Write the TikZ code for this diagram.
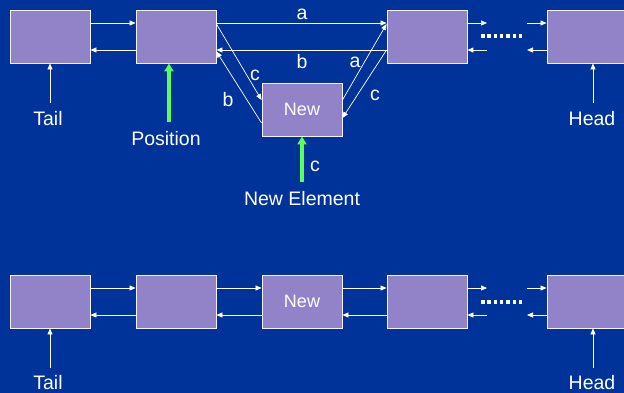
\documentclass[tikz,border=0pt]{standalone}
\usepackage{fontspec}
\setmainfont{Liberation Sans}
\usetikzlibrary{arrows.meta}
\definecolor{bg}{RGB}{0,51,153}
\definecolor{boxc}{RGB}{146,131,201}
\definecolor{grn}{RGB}{90,255,90}
\tikzset{
  cell/.style={draw=white!90!boxc, line width=0.9pt, fill=boxc, minimum width=80pt, minimum height=53pt, inner sep=0pt, text=white, font=\fontsize{18}{20}\selectfont},
  link/.style={draw=white, line width=0.7pt, -{Triangle[length=6pt,width=5pt]}},
  ptr/.style={draw=white, line width=0.7pt, -{Triangle[length=6pt,width=5pt]}},
  gptr/.style={draw=grn, line width=3.2pt, -{Triangle[length=8pt,width=9pt]}},
  lbl/.style={text=white, font=\fontsize{19.5}{21}\selectfont, inner sep=0pt},
  dots/.style={draw=white, line width=3.5pt, dash pattern=on 3.5pt off 2.8pt}
}
\begin{document}
\begin{tikzpicture}[x=1pt,y=-1pt]
\fill[bg] (0,0) rectangle (624,393);
\useasboundingbox (0,0) rectangle (624,393);
\clip (0,0) rectangle (624,393);
% ---------- top row ----------
\node[cell] (t1) at (50,36.5) {};
\node[cell] (t2) at (176,36.5) {};
\node[cell] (t3) at (427,36.5) {};
\node[cell] (t4) at (587,36.5) {};
\node[cell] (tn) at (302,109.5) {New};
\draw[link] ([yshift=13.5pt]t1.east) -- ([yshift=13.5pt]t2.west);
\draw[link] ([yshift=-13.5pt]t2.west) -- ([yshift=-13.5pt]t1.east);
\draw[link] ([yshift=13.5pt]t2.east) -- ([yshift=13.5pt]t3.west);
\draw[link] ([yshift=-13.5pt]t3.west) -- ([yshift=-13.5pt]t2.east);
\draw[link] ([yshift=12.5pt]t2.east) -- ([yshift=9.5pt]tn.west);
\draw[link] ([yshift=-13.5pt]tn.west) -- ([yshift=-15pt]t2.east);
\draw[link] ([yshift=9.5pt]tn.east) -- ([yshift=12.5pt]t3.west);
\draw[link] ([yshift=-13.5pt]t3.west) -- ([yshift=-8.5pt]tn.east);
\coordinate (tfa) at (487,23);
\coordinate (tfb) at (527,23);
\coordinate (tba) at (487,50);
\coordinate (tbb) at (527,50);
\draw[link] ([yshift=13.5pt]t3.east) -- (tfa);
\draw[link] (tfb) -- ([yshift=13.5pt]t4.west);
\draw[link] (tba) -- ([yshift=-13.5pt]t3.east);
\draw[link] ([yshift=-13.5pt]t4.west) -- (tbb);
\coordinate (td1) at (481,36);
\coordinate (td2) at (525,36);
\draw[dots] (td1) -- (td2);
\node[lbl] at (302,14) {a};
\node[lbl] at (302,62) {b};
\node[lbl] at (255,75) {c};
\node[lbl] at (228,100) {b};
\node[lbl] at (355,62) {a};
\node[lbl] at (375,95) {c};
% pointers top
\node[lbl] (tail1) at (48,119) {Tail};
\node[lbl] (head1) at (592,119) {Head};
\coordinate (tt) at (50,103);
\coordinate (th) at (593,103);
\draw[ptr] (tt) -- (t1.south);
\draw[ptr] (th) -- (th |- t4.south);
\node[lbl] (pos) at (166,139) {Position};
\coordinate (pp) at (169,122);
\draw[gptr] (pp) -- (pp |- t2.south);
\node[lbl] (ne) at (302,199) {New Element};
\coordinate (np) at (302,182);
\draw[gptr] (np) -- (tn.south);
\node[lbl] at (315,166) {c};
% ---------- bottom row ----------
\node[cell] (b1) at (50,301.5) {};
\node[cell] (b2) at (176,301.5) {};
\node[cell] (b3) at (302,301.5) {New};
\node[cell] (b4) at (427,301.5) {};
\node[cell] (b5) at (587,301.5) {};
\foreach \a/\b in {b1/b2,b2/b3,b3/b4}{
  \draw[link] ([yshift=13.5pt]\a.east) -- ([yshift=13.5pt]\b.west);
  \draw[link] ([yshift=-13.5pt]\b.west) -- ([yshift=-13.5pt]\a.east);
}
\coordinate (bfa) at (487,288);
\coordinate (bfb) at (527,288);
\coordinate (bba) at (487,315);
\coordinate (bbb) at (527,315);
\draw[link] ([yshift=13.5pt]b4.east) -- (bfa);
\draw[link] (bfb) -- ([yshift=13.5pt]b5.west);
\draw[link] (bba) -- ([yshift=-13.5pt]b4.east);
\draw[link] ([yshift=-13.5pt]b5.west) -- (bbb);
\coordinate (bd1) at (481,302);
\coordinate (bd2) at (525,302);
\draw[dots] (bd1) -- (bd2);
\node[lbl] (tail2) at (48,383) {Tail};
\node[lbl] (head2) at (592,383) {Head};
\coordinate (bt) at (50,368);
\coordinate (bh) at (593,368);
\draw[ptr] (bt) -- (b1.south);
\draw[ptr] (bh) -- (bh |- b5.south);
\end{tikzpicture}
\end{document}
